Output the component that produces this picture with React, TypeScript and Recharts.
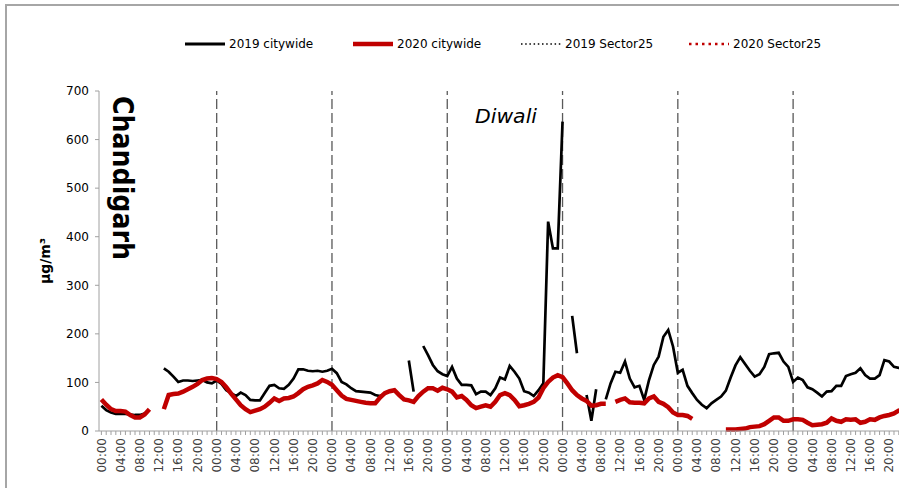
import React from 'react';
import { LineChart, Line, XAxis, YAxis, ReferenceLine, Legend } from 'recharts';

// hourly labels, one category per hour, 7 days
const hourLabels = [
  '00:00', '01:00', '02:00', '03:00', '04:00', '05:00', '06:00', '07:00',
  '08:00', '09:00', '10:00', '11:00', '12:00', '13:00', '14:00', '15:00',
  '16:00', '17:00', '18:00', '19:00', '20:00', '21:00', '22:00', '23:00',
];
const yTicks = [0, 100, 200, 300, 400, 500, 600, 700];
const dayStarts = [24, 48, 72, 96, 120, 144];

// PM2.5, 24 values per row (one row per day)
const citywide2019: (number | null)[] = [
  52, 43, 38, 35, 35, 35, 34, 33, 33, 36, null, null, null, 129, 122, 112, 101, 104, 104, 103, 104, 105, 100, 98,
  104, 97, 84, 78, 72, 79, 74, 64, 63, 63, 78, 93, 95, 88, 87, 95, 108, 127, 127, 124, 123, 124, 122, 124,
  128, 119, 101, 96, 88, 82, 81, 80, 79, 74, 72, 76, null, null, null, null, 145, 81, null, 175, 156, 136, 123, 117,
  113, 132, 108, 95, 95, 94, 76, 81, 81, 74, 88, 110, 106, 134, 122, 108, 82, 79, 72, 84, 98, 431, 376, 376,
  637, null, 237, 160, null, 74, 21, 86, null, 65, 98, 122, 120, 143, 108, 90, 93, 64, 105, 136, 153, 194, 208, 174,
  120, 126, 93, 78, 64, 54, 47, 57, 64, 71, 83, 110, 135, 152, 138, 124, 112, 117, 132, 158, 160, 161, 143, 132,
  101, 110, 105, 90, 86, 79, 71, 81, 82, 93, 93, 113, 117, 120, 129, 115, 108, 108, 115, 146, 143, 132, 130, 129,
];

const citywide2020: (number | null)[] = [
  65, 54, 45, 41, 41, 40, 33, 28, 28, 34, 45, null, null, 45, 74, 76, 77, 81, 86, 91, 97, 105, 108, 109,
  107, 101, 90, 77, 65, 53, 45, 39, 42, 45, 50, 58, 67, 62, 67, 68, 71, 78, 86, 91, 94, 98, 105, 101,
  95, 84, 73, 66, 64, 62, 60, 58, 57, 57, 69, 78, 82, 84, 74, 65, 63, 60, 72, 81, 88, 88, 83, 89,
  86, 81, 69, 72, 64, 53, 47, 50, 53, 50, 60, 74, 78, 74, 64, 51, 53, 56, 60, 69, 88, 101, 110, 115,
  111, 98, 84, 74, 67, 62, 52, 53, 56, 56, null, 60, 64, 67, 59, 58, 58, 57, 67, 71, 60, 56, 49, 38,
  33, 33, 31, 25, null, null, null, null, null, null, 3, 3, 3, 4, 5, 8, 9, 10, 14, 21, 28, 28, 21, 21,
  24, 24, 23, 17, 12, 13, 14, 17, 26, 21, 19, 24, 23, 24, 17, 19, 24, 23, 28, 31, 33, 36, 42, 45,
];

const legendItems = [
  { name: '2019 citywide', color: '#000000', width: 3, dash: '' },
  { name: '2020 citywide', color: '#c00000', width: 4.5, dash: '' },
  { name: '2019 Sector25', color: '#000000', width: 1.5, dash: '1.5 2.7' },
  { name: '2020 Sector25', color: '#c00000', width: 2.5, dash: '2.5 4' },
];

const data = citywide2019.map((v, i) => ({ idx: i, c2019: v, c2020: citywide2020[i] }));

const HourTick = (props: any) => {
  const { x, y, payload } = props;
  const i = Number(payload.value);
  if (i % 4 !== 0) return <g />;
  return (
    <text x={0} y={0} dy="0.35em" textAnchor="end" fill="#404040" fontSize={12}
      transform={`translate(${x},${y + 1}) rotate(-90)`}>
      {hourLabels[i % 24]}
    </text>
  );
};

const renderLegend = () => (
  <div style={{ display: 'flex', alignItems: 'center', fontSize: 12, color: '#000' }}>
    {legendItems.map((item) => (
      <div key={item.name} style={{ display: 'flex', alignItems: 'center', width: 168 }}>
        <svg width={40} height={8} style={{ marginRight: 4 }}>
          <line x1={0} y1={4} x2={40} y2={4} stroke={item.color} strokeWidth={item.width}
            strokeDasharray={item.dash || undefined} />
        </svg>
        <span>{item.name}</span>
      </div>
    ))}
  </div>
);

export default function App() {
  return (
    <div style={{ position: 'fixed', left: 0, top: 0, width: 899, height: 488, overflow: 'hidden',
      background: '#fff', fontFamily: '"DejaVu Sans", sans-serif' }}>
      <div style={{ position: 'absolute', left: 5, top: 4, width: 1000, height: 1000,
        border: '2px solid #a6a6a6' }} />
      <div style={{ position: 'absolute', left: 0, top: 0 }}>
        <LineChart width={906} height={488} data={data}
          margin={{ top: 91, right: 0, bottom: 0, left: 39 }}>
          <XAxis dataKey="idx" type="category" scale="band" interval={0} height={57}
            tick={<HourTick />} tickSize={4}
            tickLine={{ stroke: '#a0a0a0' }} axisLine={{ stroke: '#a0a0a0' }} />
          <YAxis type="number" domain={[0, 700]} ticks={yTicks} interval={0} width={60}
            tickSize={4} tickMargin={6} tick={{ fill: '#000', fontSize: 12 }}
            tickLine={{ stroke: '#a0a0a0' }} axisLine={{ stroke: '#a0a0a0' }} />
          {dayStarts.map((d) => (
            <ReferenceLine key={d} x={d} stroke="#595959" strokeWidth={1.3} strokeDasharray="10 4" />
          ))}
          <Line type="linear" dataKey="c2019" name="2019 citywide" stroke="#000000" strokeWidth={2.7}
            dot={false} isAnimationActive={false} />
          <Line type="linear" dataKey="c2020" name="2020 citywide" stroke="#c00000" strokeWidth={4.5}
            dot={false} isAnimationActive={false} />
          <Legend layout="horizontal" verticalAlign="middle" align="center" content={renderLegend}
            wrapperStyle={{ top: 37, left: 185, width: 700, height: 16 }} />
        </LineChart>
      </div>
      <svg width={899} height={488} style={{ position: 'absolute', left: 0, top: 0, pointerEvents: 'none' }}>
        <text x={113} y={96} transform="rotate(90 113 96)" fontSize={29} fontWeight="bold"
          textLength={164} lengthAdjust="spacingAndGlyphs" fill="#000">Chandigarh</text>
        <text x={0} y={0} transform="translate(50,261) rotate(-90)" textAnchor="middle"
          fontSize={14} fontWeight="bold" fill="#000">µg/m³</text>
        <text x={475} y={123} fontSize={20} fontStyle="italic" textLength={62}
          lengthAdjust="spacingAndGlyphs" fill="#000">Diwali</text>
      </svg>
    </div>
  );
}
